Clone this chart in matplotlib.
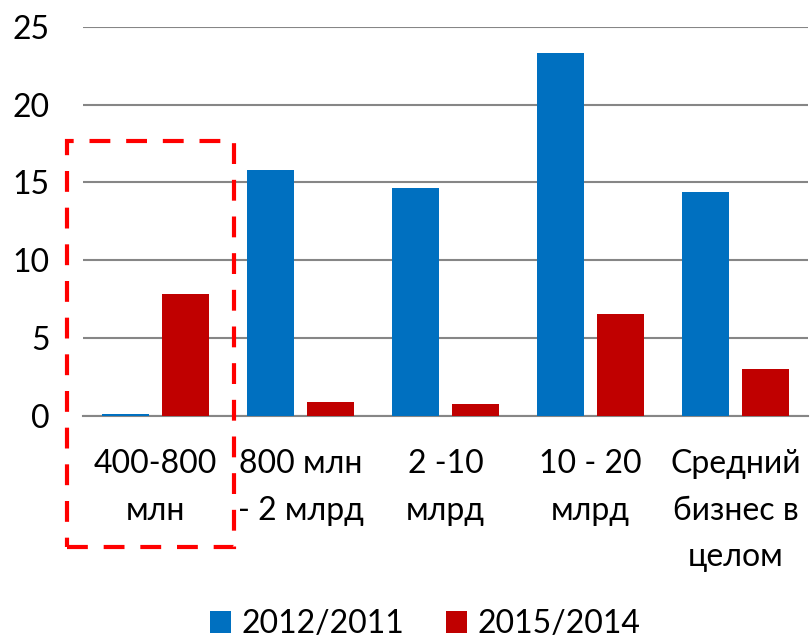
import matplotlib.pyplot as plt
import numpy as np
from matplotlib.patches import Rectangle

plt.rcParams['font.family'] = ['Lato', 'DejaVu Sans']

categories = ["400-800\nмлн", "800 млн\n- 2 млрд", "2 -10\nмлрд", "10 - 20\nмлрд", "Средний\nбизнес в\nцелом"]
series_names = ["2012/2011", "2015/2014"]
growth_2012 = [0.1, 15.8, 14.65, 23.3, 14.4]
growth_2015 = [7.85, 0.9, 0.77, 6.55, 3.0]
highlight = 0

blue = "#0070c0"
red = "#c00000"
grid_col = "#868686"

fig = plt.figure(figsize=(8.1, 6.39), dpi=100)
ax = fig.add_axes([0.1025, 0.349, 0.895, 0.609])

x = np.arange(len(categories))
w = 0.33
off = 0.207
ax.bar(x - off, growth_2012, w, color=blue, label=series_names[0], zorder=3)
ax.bar(x + off, growth_2015, w, color=red, label=series_names[1], zorder=3)

ax.set_xlim(-0.5, len(categories) - 0.5)
ax.set_ylim(0, 25)
ax.set_yticks(range(0, 26, 5))
ax.yaxis.grid(True, color=grid_col, linewidth=1.5, zorder=0)
for s in ["top", "right", "left"]:
    ax.spines[s].set_visible(False)
ax.spines["bottom"].set_color(grid_col)
ax.spines["bottom"].set_linewidth(1.5)
ax.tick_params(axis="both", length=0, labelsize=23, colors="black")
ax.tick_params(axis="y", pad=24)
ax.tick_params(axis="x", pad=24)
ax.set_xticks(x)
ax.set_xticklabels(categories, linespacing=1.68)

# dashed frame around the first group
rect = Rectangle((highlight - 0.61, -8.42), 1.15, 26.1, fill=False,
                 edgecolor="#ff0000", linestyle=(0, (5, 3.8)), linewidth=3,
                 clip_on=False, zorder=5)
ax.add_patch(rect)

fig.legend(loc="lower center", bbox_to_anchor=(0.525, -0.045), ncol=2, frameon=False,
           fontsize=23, handlelength=0.66, handleheight=0.66, handletextpad=0.32,
           columnspacing=1.3)

fig.savefig("out.png", dpi=100)
